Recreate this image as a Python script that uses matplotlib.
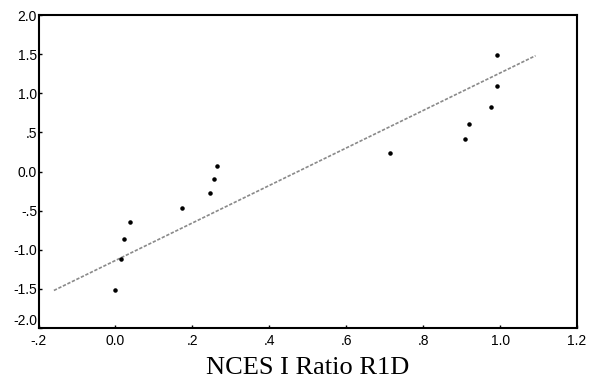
import numpy as np
import matplotlib
matplotlib.use('Agg')
import matplotlib.pyplot as plt

# Observed points
ratio_x = [0.0, 0.014, 0.023, 0.038, 0.174, 0.245, 0.255, 0.264,
           0.715, 0.908, 0.918, 0.975, 0.991, 0.991]
score_y = [-1.52, -1.12, -0.86, -0.645, -0.46, -0.28, -0.096, 0.07,
           0.24, 0.42, 0.61, 0.83, 1.09, 1.49]

# Fitted line end points
fit_x = [-0.16, 1.092]
fit_y = [-1.52, 1.48]

xticks = [-0.2, 0.0, 0.2, 0.4, 0.6, 0.8, 1.0, 1.2]
xtick_labels = ['-.2', '0.0', '.2', '.4', '.6', '.8', '1.0', '1.2']
yticks = [-2.0, -1.5, -1.0, -0.5, 0.0, 0.5, 1.0, 1.5, 2.0]
ytick_labels = ['-2.0', '-1.5', '-1.0', '-.5', '0.0', '.5', '1.0', '1.5', '2.0']

fig = plt.figure(figsize=(5.98, 3.85), dpi=100)
ax = fig.add_axes([0.0644, 0.148, 0.9006, 0.813])

ax.plot(fit_x, fit_y, color='#8a8a8a', linestyle=(0, (2, 1)), linewidth=1.2)
ax.scatter(ratio_x, score_y, s=5, color='black', zorder=3)

ax.set_xlim(-0.2, 1.2)
ax.set_ylim(-2.0, 2.0)
ax.set_xticks(xticks)
ax.set_xticklabels(xtick_labels, family='Liberation Sans', fontsize=10)
ax.set_yticks(yticks)
ax.set_yticklabels(ytick_labels, family='Liberation Sans', fontsize=10)
ax.tick_params(direction='in', length=2, width=1)
ax.tick_params(axis='y', pad=1)
ax.tick_params(axis='x', pad=4)

# the bottom y label sits a little above its tick, as in the original
ax.get_yticklabels()[0].set_verticalalignment('bottom')

for s in ax.spines.values():
    s.set_linewidth(1.5)

ax.set_xlabel('NCES I Ratio R1D', family='Liberation Serif', fontsize=19, labelpad=7)

fig.savefig('out.png', dpi=100)
